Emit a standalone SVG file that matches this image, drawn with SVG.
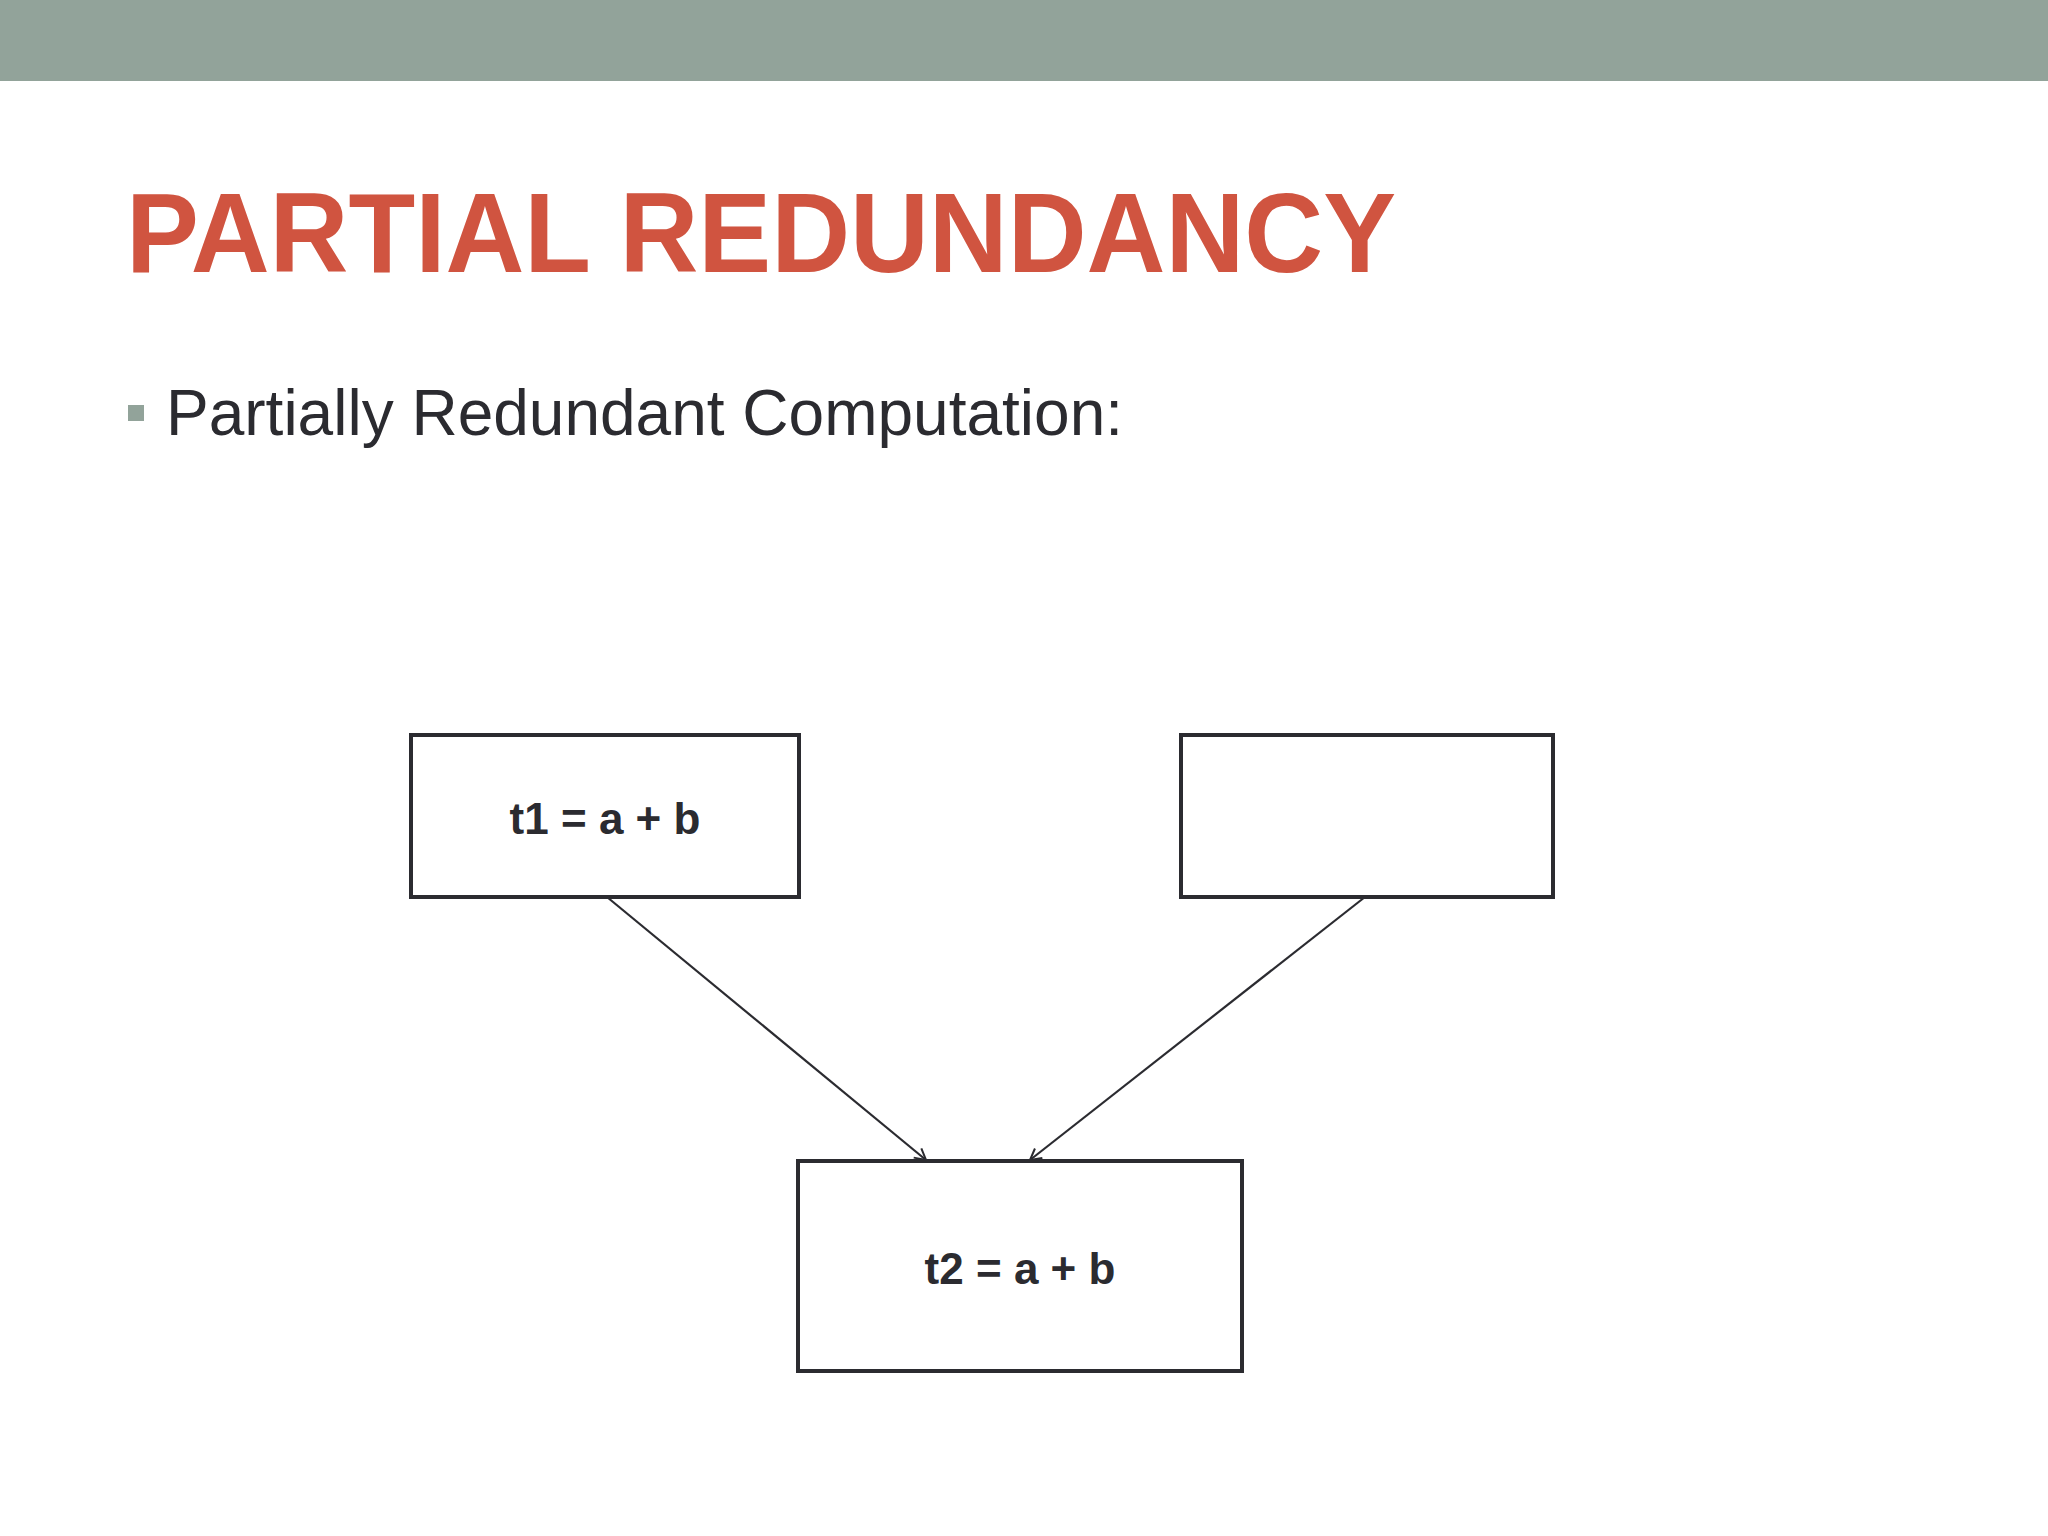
<svg xmlns="http://www.w3.org/2000/svg" width="2048" height="1536" viewBox="0 0 2048 1536">
<style>
.box{fill:#fff;stroke:#2b2b30;stroke-width:4}
.lbl{font-family:"Liberation Sans",Arial,sans-serif;font-weight:bold;font-size:44px;fill:#2b2b30;text-anchor:middle}
.edge{stroke:#2b2b30;stroke-width:2.2;fill:none;marker-end:url(#ah)}
</style>
<defs><marker id="ah" markerWidth="14" markerHeight="14" refX="12" refY="7" orient="auto" markerUnits="userSpaceOnUse"><path d="M1,1 L12,7 L1,13" fill="none" stroke="#2b2b30" stroke-width="2"/></marker></defs>
<rect width="2048" height="1536" fill="#fff"/>
<rect width="2048" height="81" fill="#92a39a"/>
<text x="126" y="272" font-family="Liberation Sans,Arial,sans-serif" font-weight="bold" font-size="113" fill="#d05440" textLength="1270" lengthAdjust="spacingAndGlyphs">PARTIAL REDUNDANCY</text>
<rect x="128" y="405" width="16" height="16" fill="#92a39a"/>
<text x="166" y="435" font-family="Liberation Sans,Arial,sans-serif" font-size="64" fill="#2b2b30">Partially Redundant Computation:</text>
<g id="edges">
<line class="edge" x1="607" y1="897" x2="926" y2="1160"/>
<line class="edge" x1="1365" y1="897" x2="1030" y2="1160"/>
</g>
<g id="n1"><rect class="box" x="411" y="735" width="388" height="162"/><text class="lbl" x="605" y="834">t1 = a + b</text></g>
<g id="n2"><rect class="box" x="1181" y="735" width="372" height="162"/></g>
<g id="n3"><rect class="box" x="798" y="1161" width="444" height="210"/><text class="lbl" x="1020" y="1284">t2 = a + b</text></g>
</svg>
